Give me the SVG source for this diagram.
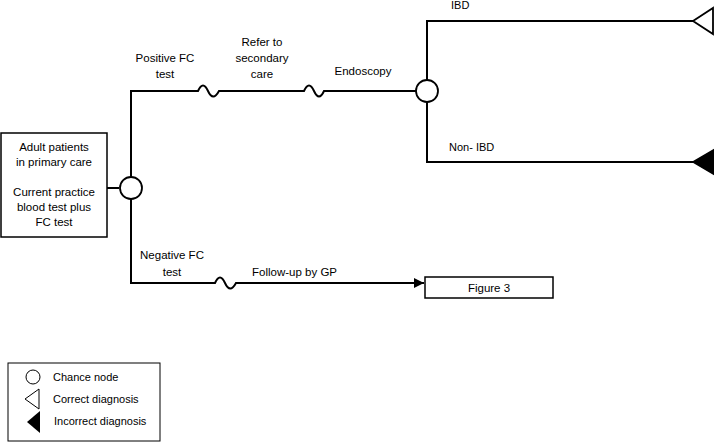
<svg xmlns="http://www.w3.org/2000/svg" width="714" height="442" viewBox="0 0 714 442">
<defs>
<style>
text{font-family:"Liberation Sans",Arial,sans-serif;font-size:11.5px;fill:#000}
.c{text-anchor:middle}
.ln{fill:none;stroke:#000;stroke-width:2}
.bx{fill:#fff;stroke:#000;stroke-width:1.5}
.nd{fill:#fff;stroke:#000;stroke-width:1.8}
</style>
<marker id="arr" viewBox="0 0 10 10" refX="10" refY="5" markerWidth="10" markerHeight="10" markerUnits="userSpaceOnUse" orient="auto">
<path d="M0,0 L10,5 L0,10 Z" fill="#000"/>
</marker>
</defs>
<rect width="714" height="442" fill="#fff"/>
<g id="connectors">
<path class="ln" d="M107,188 H119"/>
<path class="ln" d="M131,177 V91 H198 Q203,80 208,91 T219,91 H304 Q309,80 314,91 T324,91 H416"/>
<path class="ln" d="M131,199 V283 H215 Q220,272 225,283 T236,283 H424" marker-end="url(#arr)"/>
<path class="ln" d="M427,80 V21 H693"/>
<path class="ln" d="M427,102 V162 H693"/>
</g>
<g id="start">
<rect class="bx" x="1" y="133" width="106" height="104"/>
<text class="c" x="54" y="151">Adult patients</text>
<text class="c" x="54" y="166">in primary care</text>
<text class="c" x="54" y="196">Current practice</text>
<text class="c" x="54" y="211">blood test plus</text>
<text class="c" x="54" y="226">FC test</text>
</g>
<g id="chance1"><circle class="nd" cx="131" cy="188" r="11"/></g>
<g id="chance2"><circle class="nd" cx="427" cy="91" r="11"/></g>
<g id="labels">
<text class="c" x="165" y="62">Positive FC</text>
<text class="c" x="165" y="78">test</text>
<text class="c" x="262" y="46">Refer to</text>
<text class="c" x="262" y="62">secondary</text>
<text class="c" x="262" y="78">care</text>
<text class="c" x="363" y="75">Endoscopy</text>
<text x="451" y="9" style="font-size:11px">IBD</text>
<text x="449" y="151" style="font-size:11px">Non- IBD</text>
<text class="c" x="172" y="259">Negative FC</text>
<text class="c" x="172" y="276">test</text>
<text x="252" y="276">Follow-up by GP</text>
</g>
<g id="ibd"><path d="M693,21 L713,8 L713,34 Z" fill="#fff" stroke="#000" stroke-width="1.8"/></g>
<g id="nonibd"><path d="M693,162 L715,149 L715,175 Z" fill="#000" stroke="#000" stroke-width="1.5"/></g>
<g id="figure3">
<rect class="bx" x="425" y="277" width="128" height="21"/>
<text class="c" x="489" y="292">Figure 3</text>
</g>
<g id="legend">
<rect x="8" y="363" width="152" height="78" fill="#fff" stroke="#000" stroke-width="1"/>
<circle cx="33" cy="377" r="7" fill="#fff" stroke="#000" stroke-width="1"/>
<text x="53" y="381" style="font-size:11px">Chance node</text>
<path d="M25,399 L39,389 L39,409 Z" fill="#fff" stroke="#000" stroke-width="1"/>
<text x="53" y="403" style="font-size:11px">Correct diagnosis</text>
<path d="M27,422 L40,411 L40,433 Z" fill="#000"/>
<text x="54" y="425" style="font-size:11px">Incorrect diagnosis</text>
</g>
</svg>
